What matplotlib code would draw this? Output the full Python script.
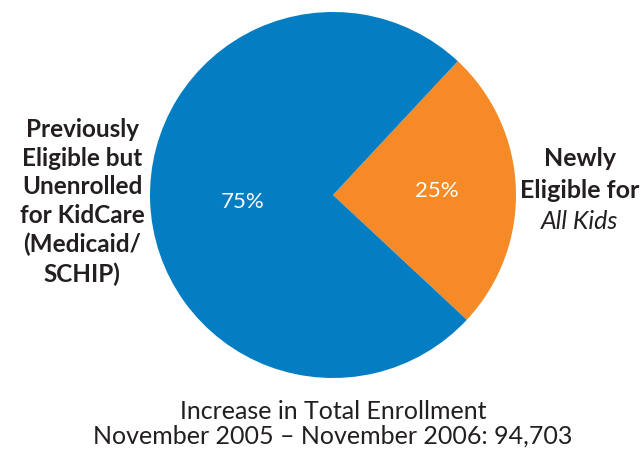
import matplotlib.pyplot as plt

# Share of new enrollment by group
groups = ['Newly Eligible for All Kids', 'Previously Eligible but Unenrolled']
shares = [25, 75]
colors = ['#F58A26', '#047DC2']

plt.rcParams['font.family'] = ['Lato', 'DejaVu Sans']
text_color = '#231F20'

fig = plt.figure(figsize=(6.41, 4.51), dpi=100)
# pie area: center ~ (333, 195) px, radius ~183 px
cx, cy, r = 333, 195, 183
W, H = 641, 451
ax = fig.add_axes([(cx - r) / W, (H - cy - r) / H, 2 * r / W, 2 * r / H])

wedges, texts, autotexts = ax.pie(
    shares, colors=colors, startangle=47, counterclock=False,
    autopct='%d%%', pctdistance=0.57, radius=1,
    wedgeprops=dict(linewidth=0),
    textprops=dict(color='white', fontsize=16),
)
# the 75% label sits a bit closer to the centre in the original
x, y = autotexts[1].get_position()
autotexts[1].set_position((x * 0.87, y * 0.87 - 0.02))

ax.set_xlim(-1, 1)
ax.set_ylim(-1, 1)
ax.set_aspect('equal')
ax.axis('off')

fig.text(82 / W, 1 - 202 / H,
         'Previously\nEligible but\nUnenrolled\nfor KidCare\n(Medicaid/\nSCHIP)',
         ha='center', va='center', fontsize=17.5, fontweight='bold',
         color=text_color, linespacing=1.3)

fig.text(580 / W, 1 - 158 / H, 'Newly', ha='center', va='center',
         fontsize=18, fontweight='bold', color=text_color)
fig.text(580 / W, 1 - 190 / H, 'Eligible for', ha='center', va='center',
         fontsize=18, fontweight='bold', color=text_color)
fig.text(580 / W, 1 - 222 / H, 'All Kids', ha='center', va='center',
         fontsize=18, style='italic', color=text_color)

fig.text(333 / W, 1 - 424 / H,
         'Increase in Total Enrollment\nNovember 2005 \u2013 November 2006: 94,703',
         ha='center', va='center', fontsize=18, color=text_color,
         linespacing=1.1)

fig.savefig('out.png', dpi=100)
